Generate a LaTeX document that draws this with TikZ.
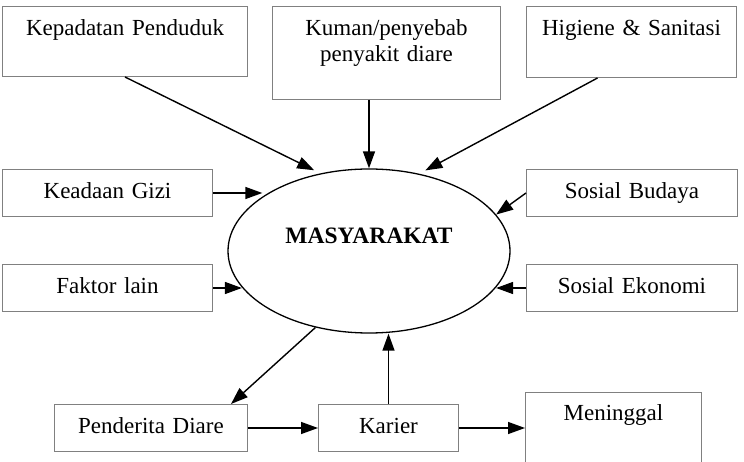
\documentclass[tikz,border=0pt]{standalone}
\usepackage{fontspec}
\setmainfont{Liberation Serif}
\usetikzlibrary{arrows.meta, positioning, shapes.geometric}

\definecolor{boxline}{RGB}{128,128,128}

\begin{document}
\begin{tikzpicture}[
        x=1pt, y=-1pt,
        font=\fontsize{23pt}{26pt}\selectfont,
        box/.style={draw=boxline, line width=1pt, inner sep=0pt, align=center, anchor=north west},
        small/.style={box, text height=29pt, text depth=18pt},
        line/.style={-{Triangle[length=17pt, width=12pt]}, line width=1.4pt}
    ]
    \path[use as bounding box, clip] (0,0) rectangle (744,462);

    % Top row: causes
    \node[box, text width=245pt, text height=29pt, text depth=41pt] (kepadatan) at (2,6) {Kepadatan Penduduk};
    \node[box, text width=228pt, text height=29pt, text depth=64pt] (kuman) at (272,6) {Kuman/penyebab\\ penyakit diare};
    \node[box, text width=210pt, text height=29pt, text depth=42pt] (higiene) at (526,6) {Higiene \& Sanitasi};

    % Side boxes
    \node[small, text width=210pt] (gizi) at (2,169) {Keadaan Gizi};
    \node[small, text width=210pt, below=47pt of gizi] (faktor) {Faktor lain};
    \node[small, text width=211pt] (budaya) at (526,169) {Sosial Budaya};
    \node[small, text width=211pt, below=47pt of budaya] (ekonomi) {Sosial Ekonomi};

    % Centre
    \node[ellipse, draw, line width=1.3pt, minimum width=282pt, minimum height=164pt, inner sep=0pt,
          font=\fontsize{23.5pt}{26pt}\selectfont\bfseries, text height=16pt, text depth=30pt] (masy) at (369,251) {MASYARAKAT};

    % Bottom row
    \node[small, text width=193pt] (penderita) at (54,404) {Penderita Diare};
    \node[small, text width=140pt, right=70pt of penderita] (karier) {Karier};
    \node[box, text width=176pt, text height=28pt, text depth=60pt] (meninggal) at (525,392) {Meninggal};

    % Arrows into the ellipse
    \draw[line, shorten >=7pt] (kepadatan.south) -- (masy.122);
    \draw[line] (masy.north |- kuman.south) -- (masy.north);
    \draw[line, shorten >=7pt] ([xshift=-34pt]higiene.south) -- (masy.57);
    \draw[line] (gizi.east) -- (gizi.east -| masy.153);
    \draw[line] (faktor.east) -- (faktor.east -| masy.196);
    \draw[line] (budaya.west) -- (masy.16);
    \draw[line] (ekonomi.west) -- (ekonomi.west -| masy.344);

    % Bottom flow
    \draw[line] (masy.235) -- ([xshift=-17pt]penderita.north east);
    \draw[line] (karier.north) -- (karier.north |- masy.south);
    \draw[line] (penderita) -- (karier);
    \draw[line] (karier.east) -- (karier.east -| meninggal.west);

\end{tikzpicture}
\end{document}
